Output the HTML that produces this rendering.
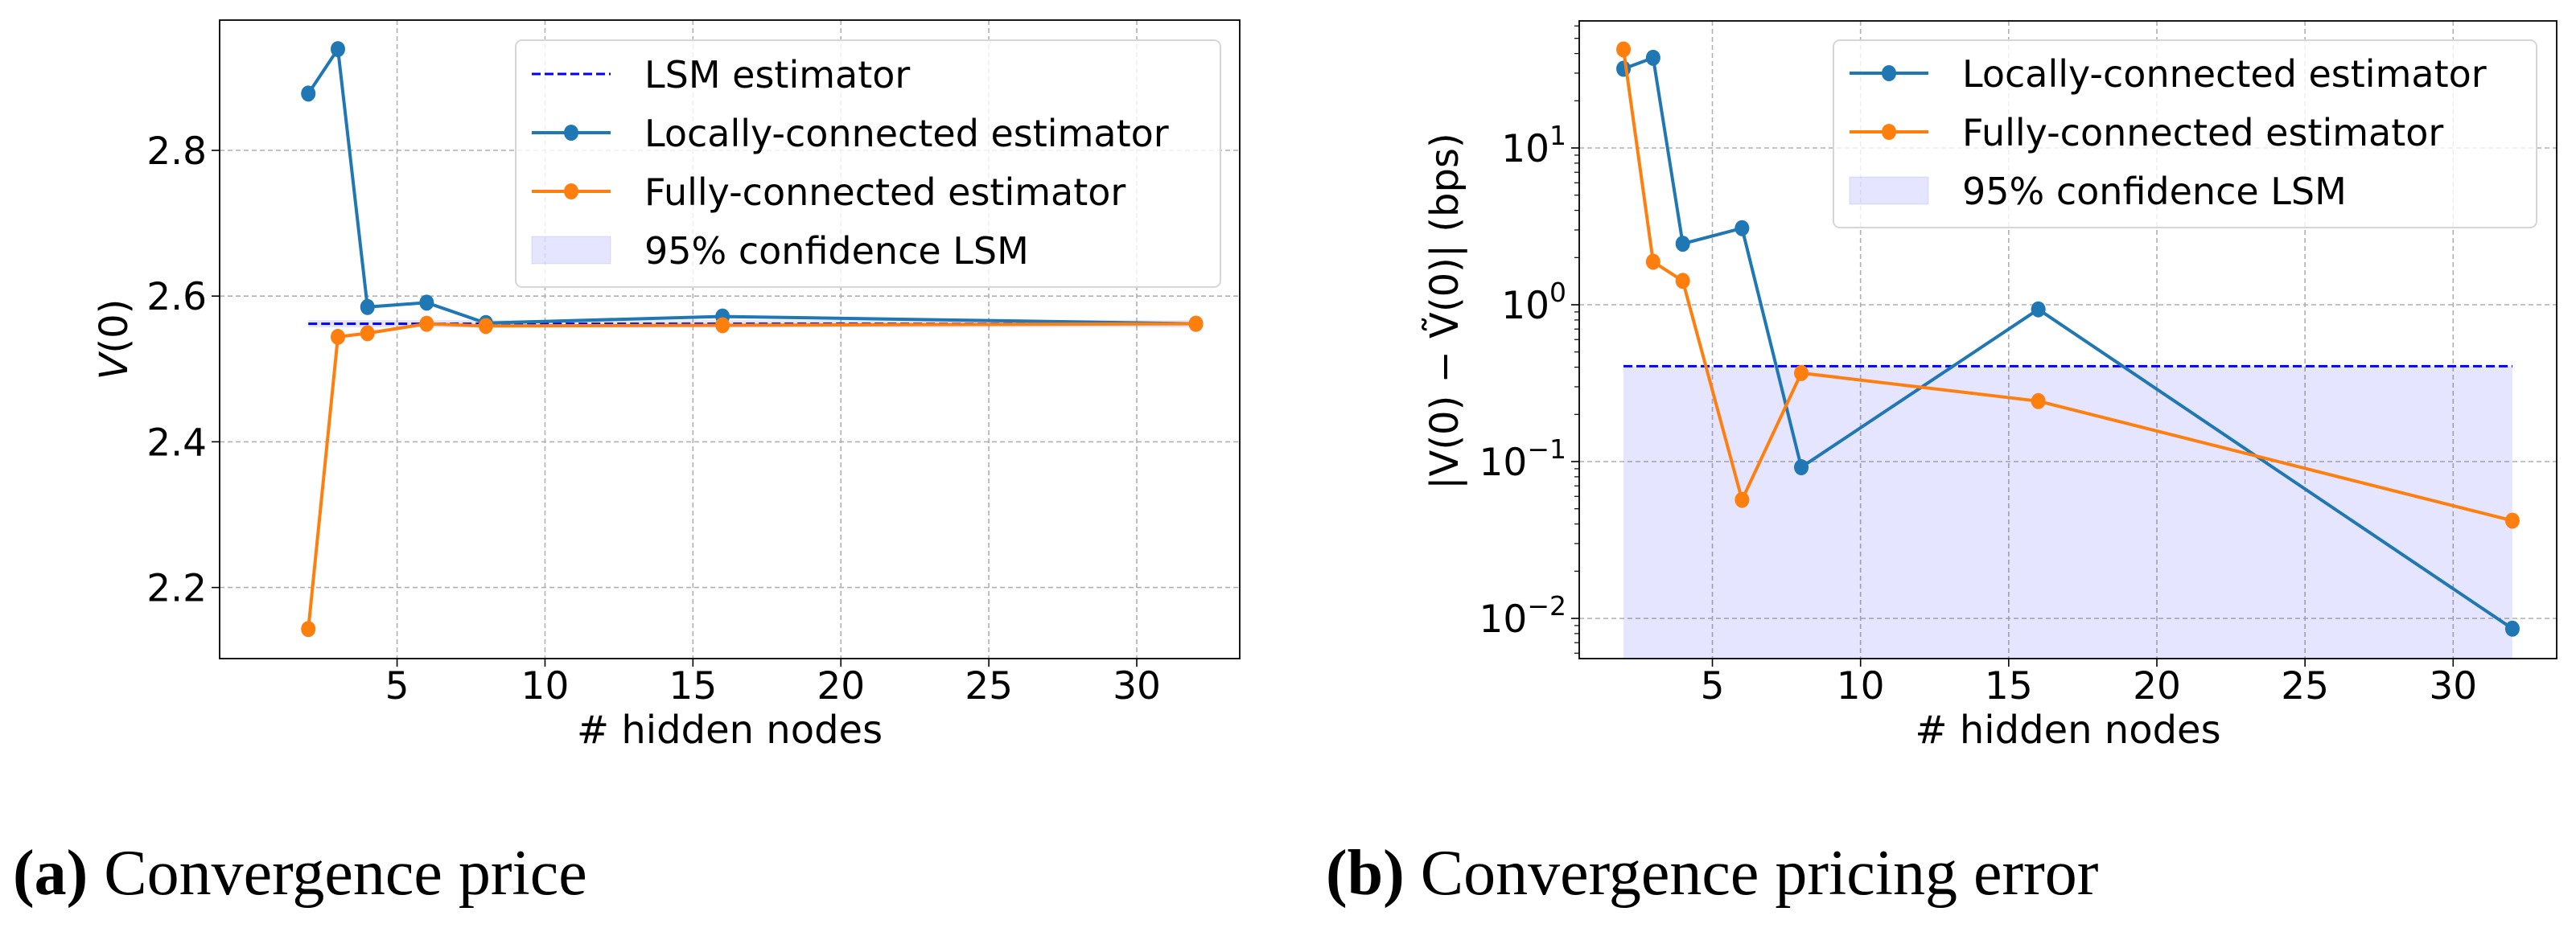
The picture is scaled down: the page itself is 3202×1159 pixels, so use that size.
<!DOCTYPE html>
<html><head><meta charset="utf-8"><style>
html,body{margin:0;padding:0;background:#fff;}
svg text{font-family:"DejaVu Sans","Liberation Sans",sans-serif;}
</style></head><body>
<svg id="fig" width="3202" height="1154" viewBox="0 0 3202 1154" xmlns="http://www.w3.org/2000/svg">
<text x="16" y="1112" font-size="80" style="font-family:'Liberation Serif',serif"><tspan font-weight="bold">(a)</tspan> Convergence price</text>
<text x="1648" y="1112" font-size="80" style="font-family:'Liberation Serif',serif"><tspan font-weight="bold">(b)</tspan> Convergence pricing error</text>
</svg>
<script>
const xs = [2,3,4,6,8,16,32];
const priceLocal = [2.878,2.939,2.585,2.591,2.563,2.572,2.562];
const priceFull = [2.143,2.544,2.549,2.562,2.559,2.560,2.562];
const priceLSM = 2.562;
const priceBand = 0.005;
const errLocal = [32,37.6,2.45,3.08,0.092,0.935,0.0086];
const errFull = [42.5,1.88,1.42,0.057,0.367,0.243,0.042];
const errLSM = 0.406;
const xTicks = [5,10,15,20,25,30];
const priceTicks = [2.2,2.4,2.6,2.8];
const errTickExps = [-2,-1,0,1];

const NS="http://www.w3.org/2000/svg";
const svg=document.getElementById('fig');
function el(tag,attrs,parent){const e=document.createElementNS(NS,tag);for(const k in attrs)e.setAttribute(k,attrs[k]);(parent||svg).appendChild(e);return e;}
const BLUE='#1f77b4',ORANGE='#ff7f0e';

function panel(o){
  const g=el('g',{});
  
  
  const X=v=>o.x0+(v-o.xmin)/(o.xmax-o.xmin)*(o.x1-o.x0);
  const Y=o.Y;
  xTicks.forEach(t=>{
    const l=el('line',{x1:X(t),x2:X(t),y1:o.y0,y2:o.y1,stroke:'#b0b0b0','stroke-width':1.6,'stroke-dasharray':'6,4'},g);
    
    
    const tk=el('line',{x1:X(t),x2:X(t),y1:o.y1,y2:o.y1+10,stroke:'#000','stroke-width':1.6},g);
    
    
    const tx=el('text',{x:X(t),y:869,'font-size':47,'text-anchor':'middle'},g);
    tx.textContent=t;
    
    
  });
  o.yticks.forEach(t=>{
    const y=Y(t.v);
    const l=el('line',{x1:o.x0,x2:o.x1,y1:y,y2:y,stroke:'#b0b0b0','stroke-width':1.6,'stroke-dasharray':'6,4'},g);
    
    
    const tk=el('line',{x1:o.x0-10,x2:o.x0,y1:y,y2:y,stroke:'#000','stroke-width':1.6},g);
    
    
    const tx=el('text',{x:o.x0-16,y:y+17,'font-size':47,'text-anchor':'end'},g);
    if(t.exp!==undefined){
      tx.textContent='10';
      const s=el('tspan',{dy:-21,'font-size':33},tx);
      s.textContent=t.exp<0?'\u2212'+(-t.exp):t.exp;
    } else tx.textContent=t.label;
    
    
  });
  if(o.minor){o.minor.forEach(v=>{const y=Y(v);if(y<o.y0||y>o.y1)return;
    const m=el('line',{x1:o.x0-6,x2:o.x0,y1:y,y2:y,stroke:'#000','stroke-width':1.2},g);
    
    });}
  const band=el('rect',{x:X(xs[0]),width:X(xs[xs.length-1])-X(xs[0]),y:Y(o.bandHi),height:Math.min(Y(o.bandLo),o.y1)-Y(o.bandHi),fill:'rgba(0,0,255,0.1)'},g);
  
  
  const lsm=el('line',{x1:X(xs[0]),x2:X(xs[xs.length-1]),y1:Y(o.lsm),y2:Y(o.lsm),stroke:'#0000ff','stroke-width':3,'stroke-dasharray':'11,5'},g);
  
  
  [[o.s1,BLUE,'locally-connected-series'],[o.s2,ORANGE,'fully-connected-series']].forEach(([s,c,n])=>{
    const p=el('polyline',{points:xs.map((x,i)=>X(x)+','+Y(s[i])).join(' '),fill:'none',stroke:c,'stroke-width':4},g);
    
    
    xs.forEach((x,i)=>{const m=el('ellipse',{cx:X(x),cy:Y(s[i]),rx:9,ry:10,fill:c},g);
      
      });
  });
  const fr=el('rect',{x:o.x0,y:o.y0,width:o.x1-o.x0,height:o.y1-o.y0,fill:'none',stroke:'#000','stroke-width':1.8},g);
  
  
  const xl=el('text',{x:(o.x0+o.x1)/2,y:924,'font-size':48,'text-anchor':'middle'},g);
  xl.textContent='# hidden nodes';
  
  
  const L=o.legend;
  const lb=el('rect',{x:L.x,y:L.y,width:L.w,height:L.h,rx:8,fill:'rgba(255,255,255,0.8)',stroke:'#d6d6d6','stroke-width':2},g);
  
  
  L.items.forEach((it,i)=>{
    const cy=L.y+L.first+i*73;
    const hx=L.x+20;
    if(it.t==='dash'){const h=el('line',{x1:hx,x2:hx+98,y1:cy,y2:cy,stroke:'#0000ff','stroke-width':3,'stroke-dasharray':'11,5'},g);}
    else if(it.t==='patch'){const h=el('rect',{x:hx,y:cy-17,width:98,height:34,fill:'rgba(0,0,255,0.1)',stroke:'rgba(0,0,255,0.1)'},g);}
    else {const h=el('line',{x1:hx,x2:hx+98,y1:cy,y2:cy,stroke:it.c,'stroke-width':4},g);
      const m=el('ellipse',{cx:hx+49,cy:cy,rx:9,ry:10,fill:it.c},g);}
    const t=el('text',{x:hx+140,y:cy+17,'font-size':46},g);
    t.textContent=it.label;
    
    
  });
  return g;
}

const lY=v=>187+(2.8-v)*906;
panel({name:'price-chart',x0:273,x1:1541,y0:25,y1:819,xmin:2-115.4/38.5,xmax:32+(1541-1484)/38.5,Y:lY,
  yticks:priceTicks.map(v=>({v:v,label:v.toFixed(1)})),
  bandLo:priceLSM-priceBand,bandHi:priceLSM+priceBand,lsm:priceLSM,s1:priceLocal,s2:priceFull,
  legend:{x:641,y:50,w:876,h:307,first:42,items:[{t:'dash',label:'LSM estimator'},{t:'line',c:BLUE,label:'Locally-connected estimator'},{t:'line',c:ORANGE,label:'Fully-connected estimator'},{t:'patch',label:'95% confidence LSM'}]}});
const yl=el('text',{x:0,y:0,'font-size':48,'text-anchor':'middle',transform:'translate(158,422) rotate(-90)'});
yl.innerHTML='<tspan font-style="italic">V</tspan>(0)';



const rY=v=>379-Math.log10(v)*195;
const minor=[];for(let e=-3;e<=1;e++)for(let k=2;k<=9;k++)minor.push(k*Math.pow(10,e));
panel({name:'error-chart',x0:1963,x1:3178,y0:26,y1:819,xmin:2-(2018-1963)/36.8,xmax:32+(3178-3123)/36.8,Y:rY,
  yticks:errTickExps.map(e=>({v:Math.pow(10,e),exp:e})),minor:minor,
  bandLo:1e-6,bandHi:errLSM,lsm:errLSM,s1:errLocal,s2:errFull,
  legend:{x:2279,y:50,w:874,h:233,first:41,items:[{t:'line',c:BLUE,label:'Locally-connected estimator'},{t:'line',c:ORANGE,label:'Fully-connected estimator'},{t:'patch',label:'95% confidence LSM'}]}});
const yr=el('text',{x:0,y:0,'font-size':48,'text-anchor':'middle',transform:'translate(1812,387) rotate(-90)'});
yr.textContent='|V(0) \u2212 V\u0303(0)| (bps)';


</script>
</body></html>
